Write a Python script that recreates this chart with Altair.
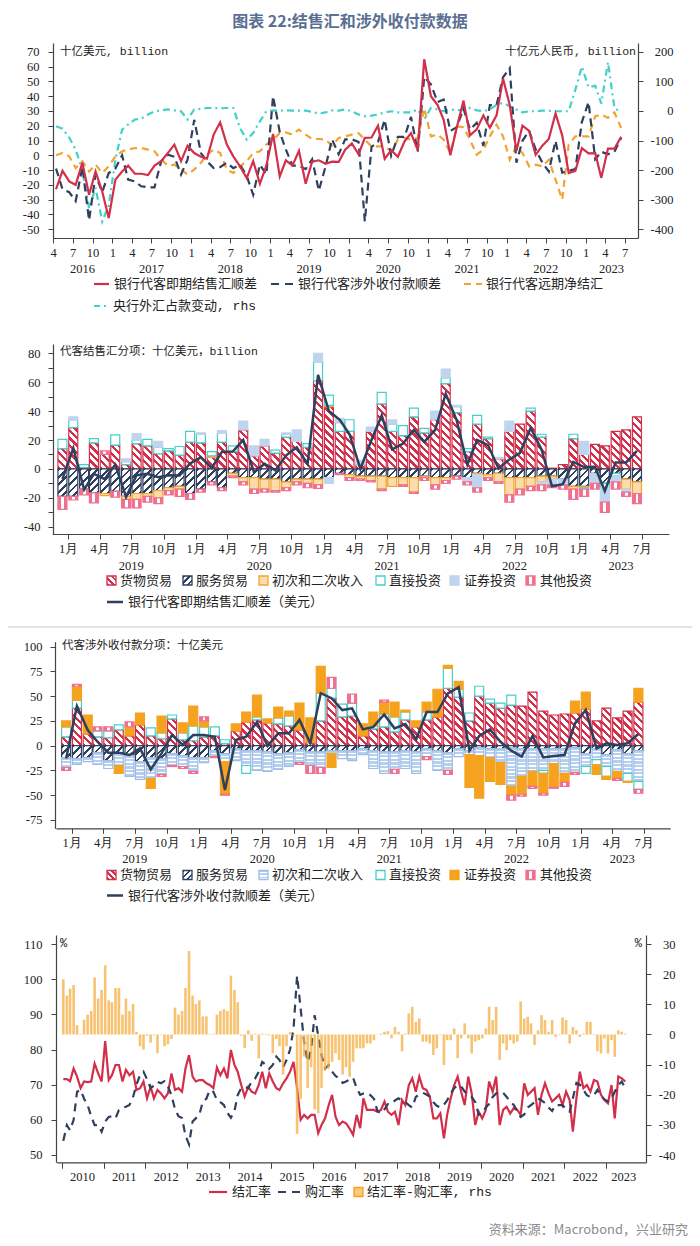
import altair as alt
import pandas as pd

# ------------------------------------------------------------------ data
# Panel 1 : monthly Apr-2016 .. Jun-2023 (USD bn; PBoC FX purchase in RMB bn, rhs)
P1_START = "2016-04"
spot_fx = [
    -23, -10.5, -17.7, -20, -5, -26.7, -11, -24.5, -42.5,
    -16.5, -11, -7, -12.5, -12.5, -13.4, -7, -4, 1.5, 7.2, -4, 6.5,
    1.5, -1, -2.3, 14, 22.3, 7.2, -0.7, -7.5, -15.4, -4, -19.3, -7,
    14.4, -14.3, -3.4, -7, 3, -19.3, -4.3, -3.4, -5.7, -4.3, -4.5, 3.8,
    8, 0.7, 11.8, 12, 20, -2.4, 3.5, -1, 9.4, 15, 3.5, 65,
    40, 34, 24, 0, 19, 37, 13.5, 17.5, 27, 18.7, 27, 52,
    34, 3, 20, 16.5, 0.3, 6.5, 11, 28.3, 13.5, -12, -10.5, 4.8,
    1.3, 1.5, -15.3, 4.5, 4.5, 12.5]
receipts_fx = [
    -9, -23, -25, -31, -8, -44, -13, -25, -12,
    -9, 0, -16.5, -17.7, -21, -21.7, -21.7, -4, 0.4, -1, -13, -3,
    24, 1.5, -4, -8.7, -8, -5, -8.7, -6.3, -14, -26.7, -6.3, -13,
    40, 15.8, 4, -7, -7, -9.4, -2.7, -24, -7.7, 10.8, 0.7, 10.8,
    10.8, 9, -44.8, 5.7, 9, 24, -0.3, 12.5, 12.5, 26, 2.4, 53,
    48, 36, 37.7, 16.5, 19, 31.6, 17.5, 21.9, 6.4, 34, 34, 52.8,
    59, -5, 9.8, 16.5, 4, -5, -11, 9.8, -11.8, -10.4, -9.4, 22.5,
    36, -2.7, 2.4, 0.7, 2.4, 11.8]
forward_fx = [
    0, 1.5, -0.7, -8.7, -4, -11, -6.3, -12, -7.5,
    -0.7, 2.7, 3.8, 4.9, 4.9, 3.8, 2.7, -3, -7, -6.3, -9.7, -13,
    -9.7, -5, 0.4, 3.8, 1.5, -9.7, -12, -7.5, -4, 1.5, 2.7, 7.2,
    10.6, 15, 15.5, 14, 17.4, 14, 11, 11, 10.6, 6.5, 11.7, 12.8,
    14, 15, 10.6, 6, 6, 6, 2.7, 10.6, 11.7, 10.6, 11.7, 32,
    12.8, 14, 10.6, 1.5, 19.6, 19, 10.6, 0.4, 3.8, 12.8, 20.7, 12.8,
    -3, 6, 1.5, -7.5, -6.3, -7.5, -3, -16.5, -30, 7.2, 12.8, 12.8,
    12.8, 26.4, 27.5, 25.3, 29, 18.5]
pboc_fx = [
    -52, -60, -90, -131, -200, -330, -260, -374, -320,
    -165, -63, -46, -29, -26, -12, -1, 2, 5, 2, -1, -29,
    5, 7, 10, 10, 9, 10, 10, -58, -97, -75, -35, -1,
    2, 1, 2, 1, 1, 1, -3, -9, -5, 2, 1, 5,
    -1, -12, -18, -16, -12, -5, -1, -5, -5, -5, 5, -29,
    10, 5, -1, 5, 2, 5, 10, 2, -1, 5, 21, 27,
    16, 5, -5, -1, -1, 1, 1, -1, -1, -1, 72, 150,
    80, 85, 25, 165, 10, -5]

# Panels 2 & 3 : monthly Dec-2018 .. Jun-2023 (USD bn)
P23_START = "2018-12"
goods_fx = [14, 28.5, 1, 18, 10, 16.5, 3, 17.5, 16, 10.5, 12.5, 9.5, 18.5,
            18, 8, 18.5, 12, 27, 9, 16, 11, 22, 19, 15, 61,
            43, 26, 26, 3, 26, 45, 26, 23, 36, 25, 34, 59,
            39, 12, 31, 21, 7, 26, 31, 40, 22, 0.5, 3, 21,
            10, 17, 16, 26, 27, 36]
services_fx = [-19, -19, -14, -16.5, -17, -15.5, -19, -17, -17, -15, -13, -12, -17,
               -14, -9, -13, -3, -6, -6, -7, -7, -9, -7, -7, -7,
               -6, -3, -4, -5, -5, -5, -6, -6, -6, -5, -6, -6,
               -5, -6, -3, -4, -3, -6, -6, -6, -5, -5, -7, -12,
               -12, -3, -10, -3, -7, -9]
income_fx = [0, 0, 0, 0, -1.5, 0, -2, -4, -2, -5, -2, -2, 0,
             0, 1, 0, -2, -3, -8, -7, -8, -4, -2, -3, -4,
             1, 0, -2, -2, -3, -9, -6, -5, -10, -1, -5, -2,
             0, 0, -1, -2, -6, -12, -8, -6, -4, -2, 0, -2,
             -1, 0, 0, 0, -7, -8]
fdi_fx = [6.5, 5, 2, 3, 0, 7, 2, 2.5, 4.5, 4.5, 1.5, 6, 7.5,
          6, 3, 6, 4, 0, 0, 0, 2, 2, 0, 2.5, 13,
          7, 6, 8, 0, 0, 8, 5, 7, 6, 3, 0, 4,
          4, 2, 6, 1, 0, 0, 0, 2, 2, 0, 0, 3,
          -1, 0, -3, -2, 0, 0]
portfolio_fx = [0, 2.5, 0, 0, 0, 0, 2, 4.5, 0, 4, 0, 0, 0,
                1, 0, 2, 0, 6, 7, 4.5, 0, 1, 8, 0, 6,
                -4, 3, 0, 3, 3, 0, 3, 0, 0, 0, 6, 6,
                1, -3, -9, 0, 1, 7, 0, 0, -2, -4, -4, 0,
                9, -7, -10, -4, -2, 0]
other_fx = [-9, -2.5, -4, -7, 2.5, -4, -6, -6, -4, -4, -3, -5, -4,
            -2, -2, -2, -1, -2, -3, -2, -1, -2, -2, -3, -2.5,
            0, -1, -2, -1, -1, -1, 0, -1, -1, -2, -3, -2,
            -2, -2, -3, -2, -1, -5, -4, -3, -4, -2, -3, -7,
            -5, -4, -7, -5, -3, -7]

goods_rp = [9, 38, 12, 9, 8, 16, 10, 21, 10, 7, 27, 6, 5,
            9, 10, 2, 15, 24, 26, 23, 22, 20, 16, 3, 25,
            48, 29, 30, 10, 17, 19, 14, 26, 19, 26, 29, 58,
            49, 25, 50, 43, 38, 41, 40, 54, 35, 31, 32, 33,
            37, 25, 38, 28, 35, 44]
services_rp = [-12, -13, -12, -7, -15, -8, -10, -16, -12, -13, -8, -10, -12,
               -12, -5, -8, -3, -5, -5, -6, -8, -7, -4, -6, -6,
               -5, -5, -5, -3, -5, -6, -6, -5, -6, -3, -5, -7,
               -3, -5, -2, -3, -3, -2, -3, -3, -3, -3, -3, -2,
               -8, -3, -9, -4, -8, -5]
income_rp = [-10, -6, -4, -12, -8, -12, -21, -18, -21, -16, -12, -11, -14,
             -5, -6, -8, -12, -15, -20, -20, -16, -14, -13, -14, -16,
             -3, -8, -10, -6, -18, -22, -18, -18, -22, -8, -20, -18,
             -8, -4, -8, -9, -14, -39, -28, -23, -22, -15, -25, -25,
             -13, -11, -12, -22, -20, -31]
fdi_rp = [10, 8, 0, 6, 7, 5, 0, 0, 8, 6, 4, 7, 15,
          10, 9, 4, 0, -8, 3, 0, 6, 10, 0, 0, 28,
          10, 13, 13, 0, 3, 13, 15, 8, 0, 8, 0, 20,
          8, 8, 10, 4, 5, 10, 0, 0, -3, 0, 0, 0,
          -7, -5, -10, 0, -8, -8]
portfolio_rp = [6, 14, 19, 0, 0, -8, 9, 12, -10, 17, 0, 10, 20,
                6, 0, -33, 7, 10, 22, 4, 11, 5, 27, 25, 27,
                -14, 0, 0, 12, 14, 12, 15, 2, 6, 10, 28, 3,
                8, -33, -43, -24, -22, -9, -18, -15, -20, -24, -9, 12,
                17, -10, -3, -7, -1, 14]
other_rp = [-3, 2, 0, 4, 4, 0, 5, 0, 0, -2, -1, -2, -2,
            4, -1, -1, 0, 0, 0, 0, 0, 0, -2, -8, -6,
            11, 0, 9, 0, 0, 2, -4, 0, 0, -3, 0, -4,
            0, 0, 0, 0, 0, -5, -2, -2, -2, -1, -4, -2,
            0, 0, 0, -2, 0, -4]

# Panel 4 : monthly Jan-2010 .. Jun-2023 (%)
P4_START = "2010-01"
settle_ratio = [
    71.6, 71.6, 71, 74.6, 72.3, 69, 70.9, 70.7, 70.9, 76, 73.2, 70.9,
    82.4, 71.3, 72.7, 75.6, 75.6, 70.9, 74.2, 72.7, 73.7, 68.5, 69, 70.9,
    66.1, 69.4, 66.1, 68.5, 67.5, 66.1, 67.5, 73.2, 68.5, 69, 68, 74.6,
    78.4, 72.3, 70.9, 71.3, 71.3, 70.4, 69.9, 69, 74.9, 72.7, 74.6, 71.8,
    79.9, 75.6, 73.7, 69.9, 66.6, 69.4, 68, 67.5, 69.9, 73.7, 69, 73.2,
    70.9, 69, 68.5, 70.4, 71.8, 73.7, 76.5, 69, 60, 61.4, 60.4, 61.4,
    61.4, 56.2, 58.5, 60.4, 64, 67.1, 60.9, 58.5, 59.5, 59, 57.5, 55.7,
    61.4, 57.6, 66.1, 62.8, 62.8, 62.8, 62.3, 62.8, 65.2, 62.3, 61.4, 62.3,
    58.5, 65.6, 64.2, 69.9, 71.8, 68, 72.3, 69, 68.5, 66.6, 60.4, 60.4,
    61.8, 54.7, 61.4, 66.1, 69.9, 72.3, 68, 64.2, 72.3, 67.5, 58.5, 62.3,
    60.4, 62.8, 70.9, 68, 72.3, 58.5, 62.8, 63.7, 61.8, 63.3, 62.8, 61.4,
    70.4, 67.1, 68, 69, 61.4, 67.1, 70.4, 67.5, 65.2, 66.1, 67.1, 64.2,
    68, 65.6, 56.6, 66.1, 73.7, 69, 69.9, 68, 71.3, 70.9, 67.1, 65.6,
    64.7, 69.9, 60.4, 72.3, 71.8, 70.9]
purchase_ratio = [
    54, 58.5, 57, 60, 68, 68.5, 66, 64.2, 61, 58.5, 58.5, 56.6,
    59.5, 60.8, 61, 60.4, 62.8, 63.5, 63.7, 64.2, 66.5, 70, 72.7, 73.7,
    71.5, 69, 69.7, 70.8, 70.4, 71, 69.5, 67, 63, 61, 60.5, 55.5,
    53, 59.5, 60.4, 61.5, 65.2, 66, 68.5, 68, 65.6, 65, 64.2, 62,
    60.6, 62.5, 67, 69, 69.4, 69, 70.9, 71.8, 73.7, 76.5, 75.6, 74.5,
    75.6, 78, 77, 75, 77, 80, 86, 101, 91.7, 82.2, 76.5, 80,
    89.8, 84, 78.4, 74.6, 75.6, 73.7, 72.5, 71.8, 70.5, 70.9, 71.5, 72,
    69, 67.1, 67.5, 67.7, 67, 66, 62.5, 61.8, 63, 64.5, 64.5, 65.5,
    66.1, 65.5, 65, 64.2, 63.5, 66.5, 67.2, 67.7, 67.2, 66.6, 65, 64,
    63.5, 64.3, 65.5, 67.5, 69, 69.9, 69.5, 68, 67.2, 66.5, 65, 61.5,
    61.8, 63.5, 64.5, 66.5, 67.5, 68, 67.7, 66.5, 65.2, 64.2, 62.5, 60.8,
    61.5, 63.5, 64.2, 65, 66.1, 65.5, 64.8, 63.5, 62.5, 64.2, 64.2, 64.2,
    63, 62.3, 66.1, 70.5, 70, 68.5, 67, 66.5, 67, 68.5, 66.8, 65.8,
    65.2, 66, 68, 69.9, 70.9, 69]
ratio_gap = [
    18.3, 12.9, 15.2, 16.4, 3.1, 0.2, 4.9, 6.6, 7.8, 18.9, 11.9, 14.8,
    23, 11.3, 10.7, 15.4, 15.4, 6.6, 11.9, 7.8, 10.1, 0.8, -3.9, -5,
    -0.4, -2.7, -0.3, -6.2, -0.2, -3.9, -3.3, -1.5, 8.9, 6.6, 7.8, 15.4,
    27.7, 12.9, 10.1, 11.3, 6, 6, 0.2, 0.2, 6.6, 7.8, 8.4, 7.8,
    19.5, 14.8, 10.7, -0.4, -4.5, 1.4, -2.1, 0.3, -7.9, 0.3, 0.2, -0.3,
    -6.2, -1.5, -3.9, -13.3, -3.9, 0.8, -0.4, -33, -21.4, -7.3, -17.8, -10.9,
    -24.9, -26.1, -17.8, -12, -11.4, -9.1, -6.2, -8.5, -13.3, -10.9, -14, -9,
    -4.6, -4.6, -4.6, -3, -3, -1.9, 0.1, 0.3, 0.9, 1.1, -1.3, 2.5,
    0.9, -5.6, 0.3, 7, 9.2, 4.2, 5.3, -2.4, -2.4, -3, -6.8, -4.6,
    -0.2, -10.1, -1.9, -1.9, 2, -7.9, -1.3, 3.7, -1.3, -6.3, -2.4, -1.9,
    -1.3, 2, 9.2, 4.8, 9.2, -8.5, -3, -5.2, -1.9, -3, -2.4, 10.9,
    5.3, 5.9, 3.7, -3.5, 1.4, 6.4, 4.8, 0.9, 4.8, -0.8, -0.2, 5.6,
    4.8, -3, 2.5, 1.4, -0.8, 0.3, 4.2, 4.2, -0.2, -5.6, -6.3, -1.3,
    -6.3, -1.9, -7.4, 1.4, 0.9, 0.3]

comp_names = ["货物贸易", "服务贸易", "初次和二次收入", "直接投资", "证券投资", "其他投资"]

for arr, n in [(spot_fx, 87), (receipts_fx, 87), (forward_fx, 87), (pboc_fx, 87),
               (settle_ratio, 162), (purchase_ratio, 162), (ratio_gap, 162)]:
    assert len(arr) == n, (n, len(arr))
for arr in [goods_fx, services_fx, income_fx, fdi_fx, portfolio_fx, other_fx,
            goods_rp, services_rp, income_rp, fdi_rp, portfolio_rp, other_rp]:
    assert len(arr) == 55, len(arr)

# ------------------------------------------------------------------ style
FONT_NUM = "Liberation Serif"
FONT_CJK = "Noto Sans CJK SC"
FONT_MIX = "Liberation Mono, Noto Sans CJK SC"
RED, NAVY, ORANGE, CYAN = "#d22f4b", "#2f3f5e", "#f2a431", "#45cfca"
LBLUE, PINK, ORANGE_S = "#bfd4ee", "#f0708f", "#f5a21f"
AX = "#444"
W, H = 684, 1230


def V(p):          # page pixel -> view pixel
    return p - 8


def months(start, n, day):
    base = pd.Timestamp(start + "-01")
    return [(base + pd.DateOffset(months=k)).strftime("%Y-%m-") + "%02d" % day for k in range(n)]


def ms(s):
    return int(pd.Timestamp(s).value // 1_000_000)


def stripes(color, L, period, frac, vec, bg="#ffffff"):
    stops, j = [], 0
    while True:
        a = j * period / L
        if a >= 1:
            break
        b = min((j + frac) * period / L, 1.0)
        c = min((j + 1) * period / L, 1.0)
        stops += [{"offset": round(a, 4), "color": color}, {"offset": round(b, 4), "color": color}]
        if b < 1:
            stops += [{"offset": round(b, 4), "color": bg}, {"offset": round(c, 4), "color": bg}]
        j += 1
    g = {"gradient": "linear", "stops": stops}
    g.update(vec)
    return g


def diag(color, w, h, kind, period=7.5, frac=0.42):
    L = w + h
    k = L / (w * w + h * h)
    if kind == "back":
        vec = {"x1": 0, "y1": 1, "x2": round(w * k, 5), "y2": round(1 - h * k, 5)}
    else:
        vec = {"x1": 0, "y1": 0, "x2": round(w * k, 5), "y2": round(h * k, 5)}
    return stripes(color, L, period, frac, vec)


def hlines(color, h, period=3.6, frac=0.6):
    return stripes(color, max(h, 1.0), period, frac, {"x1": 0, "y1": 0, "x2": 0, "y2": 1})


PINKBAR = {"gradient": "linear", "x1": 0, "y1": 0, "x2": 1, "y2": 0,
           "stops": [{"offset": 0, "color": PINK}, {"offset": 0.34, "color": PINK},
                     {"offset": 0.34, "color": "#ffffff"}, {"offset": 0.66, "color": "#ffffff"},
                     {"offset": 0.66, "color": PINK}, {"offset": 1, "color": PINK}]}

BW = 9.0


def fill2(c, h):
    return [diag(RED, BW, h, "back"), diag(NAVY, BW, h, "fwd", frac=0.36),
            "#fcdcaa", "#ffffff", LBLUE, PINKBAR][c]


def fill3(c, h):
    if c == 2:
        return hlines("#b7cfee", h)
    return [diag(RED, BW, h, "back"), diag(NAVY, BW, h, "fwd", frac=0.36),
            None, "#ffffff", ORANGE_S, PINKBAR][c]


STROKE2 = [RED, NAVY, ORANGE, CYAN, LBLUE, PINK]
STROKE3 = [RED, NAVY, "#9dbde6", CYAN, ORANGE_S, PINK]


def stack_records(comps, fill_fn, strokes, ppu):
    dates = months(P23_START, 55, 16)
    recs = []
    for i, d in enumerate(dates):
        pos = neg = 0.0
        for c, series in enumerate(comps):
            v = series[i]
            if v == 0:
                continue
            if v > 0:
                y0, y1 = pos, pos + v
                pos = y1
            else:
                y0, y1 = neg, neg + v
                neg = y1
            recs.append({"date": d, "y0": y0, "y1": y1,
                         "g": fill_fn(c, abs(v) * ppu), "s": strokes[c]})
    return recs


def xaxis(y_page, values, label_expr=None, tick=5):
    kw = dict(orient="bottom", offset=V(y_page) - H, values=values, tickSize=tick, grid=False,
              title=None, domainColor=AX, tickColor=AX, domainWidth=1.2, labelFont=FONT_NUM,
              labelFontSize=12.5, labelColor="#222", labelPadding=3, labelOverlap=False,
              labelFlush=False)
    if label_expr is None:
        kw["labels"] = False
    else:
        kw["labelExpr"] = label_expr
    return alt.Axis(**kw)


def yaxis(orient, x_page, values, label_expr="toString(datum.value)", pad=8, align=None):
    off = -V(x_page) if orient == "left" else -(W - V(x_page))
    kw = dict(orient=orient, offset=off, values=values, tickSize=5, grid=False, title=None,
              domainColor=AX, tickColor=AX, domainWidth=1.2, labelFont=FONT_NUM,
              labelFontSize=12.5, labelColor="#222", labelPadding=pad, labelOverlap=False,
              labelExpr=label_expr, labelFlush=False)
    if align:
        kw["labelAlign"] = align
    return alt.Axis(**kw)


ONE = pd.DataFrame({"a": [0]})


def texts(items, size, font, color="#222", align="left", weight="normal"):
    df = pd.DataFrame([{"x": V(x), "y": V(y), "t": t} for x, y, t in items])
    return alt.Chart(df).mark_text(align=align, baseline="middle", fontSize=size, font=font,
                                   color=color, fontWeight=weight).encode(
        x=alt.X("x:Q", scale=None), y=alt.Y("y:Q", scale=None), text="t:N")


def hline(x0, x1, y, color, width=2.2, dash=None):
    mk = dict(color=color, strokeWidth=width)
    if dash:
        mk["strokeDash"] = dash
    return alt.Chart(ONE).mark_rule(**mk).encode(
        x=alt.value(V(x0)), x2=alt.value(V(x1)), y=alt.value(V(y)))


def swatch(x0, y, fill, stroke, size=9):
    return alt.Chart(ONE).mark_rect(strokeWidth=1.3).encode(
        x=alt.value(V(x0)), x2=alt.value(V(x0 + size)),
        y=alt.value(V(y - size / 2)), y2=alt.value(V(y + size / 2)),
        fill=alt.value(fill), stroke=alt.value(stroke))


def year_labels(pairs, scale, axis, y_page):
    df = pd.DataFrame({"date": [d for d, _ in pairs], "t": [t for _, t in pairs]})
    return alt.Chart(df).mark_text(font=FONT_NUM, fontSize=12.5, color="#222", baseline="middle").encode(
        x=alt.X("date:T", scale=scale, axis=axis), y=alt.value(V(y_page)), text="t:N")


layers = []

# ------------------------------------------------------------------ title / footer
layers.append(texts([(350, 21.5, "图表 22:结售汇和涉外收付款数据")], 16, FONT_CJK,
                    color="#5a6f93", align="center", weight="bold"))
layers.append(texts([(688, 1230, "资料来源：Macrobond，兴业研究")], 13, FONT_CJK,
                    color="#8c8c8c", align="right"))
layers.append(alt.Chart(ONE).mark_rule(color="#c8c8c8", strokeWidth=1).encode(
    x=alt.value(0), x2=alt.value(V(695)), y=alt.value(V(627))))

# ------------------------------------------------------------------ panel 1
p1 = pd.DataFrame({"date": months(P1_START, 87, 15), "spot": spot_fx, "rec": receipts_fx,
                   "fwd": forward_fx, "pboc": pboc_fx})
x1s = alt.Scale(type="utc", domain=[ms("2016-04-01"), ms("2023-09-01")], range=[V(53), V(638)])
y1L = alt.Scale(domain=[-56, 76], range=[V(238), V(43)], nice=False, zero=False)
y1R = alt.Scale(domain=[-430, 230], range=[V(238), V(43)], nice=False, zero=False)
q1 = [ms(d) for d in pd.date_range("2016-04-01", "2023-07-01", freq="QS-JAN").strftime("%Y-%m-%d")]
ax1x = xaxis(238, q1, "utcFormat(datum.value, '%-m')")
ax1L = yaxis("left", 53, list(range(-50, 71, 10)), pad=9)
ax1R = yaxis("right", 638, list(range(-400, 201, 100)), pad=30, align="right")


def p1line(field, color, dash=None):
    mk = dict(color=color, strokeWidth=2.2)
    if dash:
        mk["strokeDash"] = dash
    return alt.Chart(p1).mark_line(**mk).encode(
        x=alt.X("date:T", scale=x1s, axis=ax1x), y=alt.Y(field + ":Q", scale=y1L, axis=ax1L))


cyan = alt.Chart(p1).mark_line(color=CYAN, strokeWidth=2.2, strokeDash=[7, 4, 2, 4]).encode(
    x=alt.X("date:T", scale=x1s, axis=ax1x), y=alt.Y("pboc:Q", scale=y1R, axis=ax1R))
yrs1 = year_labels([("2016-08-16", "2016")] + [("%d-07-01" % y, str(y)) for y in range(2017, 2023)]
                   + [("2023-05-01", "2023")], x1s, ax1x, 269)
panel1 = alt.layer(cyan, alt.layer(p1line("fwd", ORANGE, [7, 5]), p1line("rec", NAVY, [8, 5]),
                                   p1line("spot", RED), yrs1)).resolve_scale(y="independent")
layers.append(panel1)
layers.append(texts([(60, 52, "十亿美元, billion")], 11.5, FONT_MIX))
layers.append(texts([(636, 52, "十亿元人民币, billion")], 11.5, FONT_MIX, align="right"))
layers += [hline(94, 109, 284, RED), hline(271, 293, 284, NAVY, dash=[8, 6]),
           hline(464, 482, 284, ORANGE, dash=[7, 5]), hline(94, 109, 306, CYAN, dash=[6, 4, 2, 4])]
layers.append(texts([(114, 284, "银行代客即期结售汇顺差"), (298, 284, "银行代客涉外收付款顺差"),
                     (486, 284, "银行代客远期净结汇"), (113, 306, "央行外汇占款变动, rhs")], 13, FONT_MIX))

# ------------------------------------------------------------------ panels 2 & 3
q23 = [ms(d) for d in pd.date_range("2019-01-01", "2023-07-01", freq="QS-JAN").strftime("%Y-%m-%d")]
yr23 = [("%d-07-01" % y, str(y)) for y in range(2019, 2023)] + [("2023-05-01", "2023")]
mlab = "utcFormat(datum.value, '%-m') + '月'"


def bar_panel(comps, fill_fn, strokes, line_vals, x_rng, y_dom, y_rng, x_ax_page, y_ax_page,
              yvals, ylab, years_y):
    xs = alt.Scale(type="utc", domain=[ms("2018-12-01"), ms("2023-09-01")], range=x_rng)
    ys = alt.Scale(domain=y_dom, range=y_rng, nice=False, zero=False)
    axx = xaxis(y_ax_page, q23, mlab)
    axy = yaxis("left", x_ax_page, yvals, label_expr=ylab)
    ppu = (y_rng[0] - y_rng[1]) / (y_dom[1] - y_dom[0])
    recs = stack_records(comps, fill_fn, strokes, ppu)
    bars = alt.Chart(alt.Data(values=recs)).mark_bar(width=BW, strokeWidth=1.2).encode(
        x=alt.X("date:T", scale=xs, axis=axx), y=alt.Y("y0:Q", scale=ys, axis=axy), y2="y1:Q",
        fill=alt.Fill("g:N", scale=None), stroke=alt.Stroke("s:N", scale=None))
    ldf = pd.DataFrame({"date": months(P23_START, 55, 16), "v": line_vals})
    line = alt.Chart(ldf).mark_line(color=NAVY, strokeWidth=2.5).encode(
        x=alt.X("date:T", scale=xs, axis=axx), y=alt.Y("v:Q", scale=ys, axis=axy))
    return alt.layer(bars, line, year_labels(yr23, xs, axx, years_y))


layers.append(bar_panel([goods_fx, services_fx, income_fx, fdi_fx, portfolio_fx, other_fx],
                        fill2, STROKE2, spot_fx[32:], [V(52.2), V(668.9)], [-45, 86.4],
                        [V(534), V(344)], 53, 534, list(range(-40, 81, 10)),
                        "datum.value % 20 == 0 ? toString(datum.value) : ''", 566))
layers.append(texts([(60, 352, "代客结售汇分项：十亿美元，billion")], 11.5, FONT_MIX))

layers.append(bar_panel([goods_rp, services_rp, income_rp, fdi_rp, portfolio_rp, other_rp],
                        fill3, STROKE3, receipts_fx[32:], [V(55.9), V(670.2)], [-83.4, 105],
                        [V(828.3), V(641.7)], 55, 828.3, list(range(-75, 101, 25)),
                        "toString(datum.value)", 859))
layers.append(texts([(62, 646, "代客涉外收付款分项：十亿美元")], 11.5, FONT_MIX))

sw_x = [107, 183, 259, 376, 450, 526]
tx_x = [120, 196, 272, 389, 464, 540]
sw2 = [diag(RED, 9, 9, "back", period=6), diag(NAVY, 9, 9, "fwd", period=6, frac=0.36),
       "#fcdcaa", "#ffffff", LBLUE, PINKBAR]
sw3 = [sw2[0], sw2[1], hlines("#b7cfee", 9, period=3), "#ffffff", ORANGE_S, PINKBAR]
for yrow, fills, strokes in [(580.5, sw2, STROKE2), (875, sw3, STROKE3)]:
    for k in range(6):
        layers.append(swatch(sw_x[k], yrow, fills[k], strokes[k]))
    layers.append(texts([(tx_x[k], yrow, comp_names[k]) for k in range(6)], 13, FONT_MIX))
layers += [hline(107, 123, 602, NAVY, width=2.5), hline(107, 123, 895.5, NAVY, width=2.5)]
layers.append(texts([(128, 602, "银行代客即期结售汇顺差（美元）"),
                     (128, 895.5, "银行代客涉外收付款顺差（美元）")], 13, FONT_MIX))

# ------------------------------------------------------------------ panel 4
p4 = pd.DataFrame({"date": months(P4_START, 162, 15), "settle": settle_ratio,
                   "purchase": purchase_ratio, "gap": ratio_gap, "z": 0})
x4s = alt.Scale(type="utc", domain=[ms("2010-01-01"), ms("2023-10-30")], range=[V(56.7), V(646)])
y4L = alt.Scale(domain=[47.9, 112.6], range=[V(1162.3), V(935)], nice=False, zero=False)
y4R = alt.Scale(domain=[-42.4, 33], range=[V(1162.3), V(935)], nice=False, zero=False)
yt4 = [ms("%d-01-01" % y) for y in range(2010, 2024)]
ax4x = xaxis(1162.3, yt4, None, tick=6)
ax4L = yaxis("left", 56, list(range(50, 111, 10)), pad=9)
ax4R = yaxis("right", 646, list(range(-40, 31, 10)), pad=24, align="right")
red4 = alt.Chart(p4).mark_line(color=RED, strokeWidth=2.2).encode(
    x=alt.X("date:T", scale=x4s, axis=ax4x), y=alt.Y("settle:Q", scale=y4L, axis=ax4L))
navy4 = alt.Chart(p4).mark_line(color=NAVY, strokeWidth=2.2, strokeDash=[8, 6]).encode(
    x=alt.X("date:T", scale=x4s, axis=ax4x), y=alt.Y("purchase:Q", scale=y4L, axis=ax4L))
bars4 = alt.Chart(p4).mark_bar(width=2.6, color="#f5b24a", opacity=0.78).encode(
    x=alt.X("date:T", scale=x4s, axis=ax4x), y=alt.Y("gap:Q", scale=y4R, axis=ax4R), y2="z:Q")
yrs4 = year_labels([("%d-07-01" % y, str(y)) for y in range(2010, 2023)] + [("2023-06-01", "2023")],
                   x4s, ax4x, 1177)
layers.append(alt.layer(alt.layer(red4, navy4, yrs4), bars4).resolve_scale(y="independent"))
layers.append(texts([(60, 943, "%")], 12, FONT_MIX))
layers.append(texts([(642, 943, "%")], 12, FONT_MIX, align="right"))
layers += [hline(209, 227, 1192, RED), hline(278, 300, 1192, NAVY, dash=[8, 6]),
           swatch(354, 1192, "#f8c978", ORANGE_S)]
layers.append(texts([(232, 1192, "结汇率"), (305, 1192, "购汇率"), (367, 1192, "结汇率-购汇率, rhs")],
                    13, FONT_MIX))

chart = alt.layer(*layers).resolve_scale(x="independent", y="independent").properties(
    width=W, height=H, padding=0, autosize=alt.AutoSizeParams(type="none")
).configure_view(strokeWidth=0)

chart.save("out.html", embed_options={"renderer": "svg", "actions": False})
